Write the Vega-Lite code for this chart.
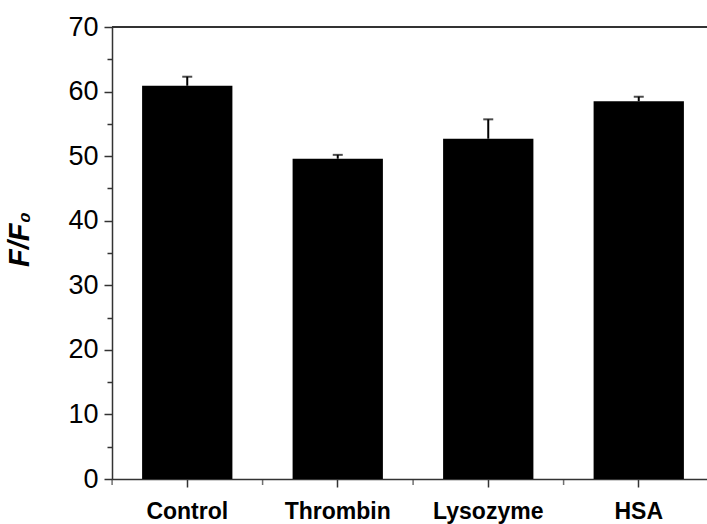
{
  "$schema": "https://vega.github.io/schema/vega-lite/v6.json",
  "width": 595,
  "height": 452,
  "autosize": "none",
  "padding": {"left": 112, "top": 27, "right": 0, "bottom": 45},
  "background": "white",
  "config": {
    "view": {"stroke": null},
    "font": "Liberation Sans",
    "axis": {"domainColor": "#333", "tickColor": "#333", "domainWidth": 1.5, "tickWidth": 1.5, "grid": false, "labelColor": "black", "labelFont": "Liberation Sans", "titleFont": "Liberation Sans"}
  },
  "data": {
    "values": [
      {"group": "Control", "value": 60.9, "upper": 62.3},
      {"group": "Thrombin", "value": 49.6, "upper": 50.2},
      {"group": "Lysozyme", "value": 52.7, "upper": 55.7},
      {"group": "HSA", "value": 58.5, "upper": 59.2}
    ]
  },
  "encoding": {
    "x": {
      "field": "group", "type": "nominal", "sort": null,
      "scale": {"range": [0, 602], "paddingInner": 0.4, "paddingOuter": 0.2},
      "axis": {"orient": "bottom", "title": null, "labelAngle": 0, "labelFontSize": 23, "labelFontWeight": "bold", "tickSize": 8, "labelPadding": 13}
    },
    "y": {
      "field": "value", "type": "quantitative",
      "scale": {"domain": [0, 70], "nice": false, "zero": true},
      "axis": {
        "title": "F/F₀", "titleFontSize": 29, "titleFontWeight": "bold", "titleFontStyle": "italic", "titleColor": "black", "titlePadding": 33, "titleY": 212,
        "values": [0, 5, 10, 15, 20, 25, 30, 35, 40, 45, 50, 55, 60, 65, 70],
        "labelExpr": "datum.value % 10 === 0 ? datum.label : ''",
        "tickSize": {"condition": {"test": "datum.value % 10 === 0", "value": 8}, "value": 5},
        "labelFontSize": 27, "labelPadding": 6
      }
    }
  },
  "layer": [
    {
      "mark": {"type": "bar", "color": "black"}
    },
    {
      "mark": {"type": "rule", "color": "black", "strokeWidth": 2},
      "encoding": {
        "y2": {"field": "upper"}
      }
    },
    {
      "mark": {"type": "tick", "color": "black", "size": 10, "thickness": 2, "orient": "horizontal"},
      "encoding": {
        "y": {"field": "upper", "type": "quantitative"}
      }
    },
    {
      "mark": {"type": "rule", "color": "#333", "strokeWidth": 1.5},
      "encoding": {"y": {"datum": 70, "type": "quantitative"}, "x": {"value": 0}, "x2": {"value": 595}}
    },
    {
      "mark": {"type": "tick", "color": "#333", "size": 6, "thickness": 1.5, "orient": "vertical", "xOffset": -30, "yOffset": 3},
      "encoding": {
        "x": {"field": "group", "type": "nominal", "sort": null, "bandPosition": 0},
        "y": {"datum": 0, "type": "quantitative"}
      }
    }
  ]
}
